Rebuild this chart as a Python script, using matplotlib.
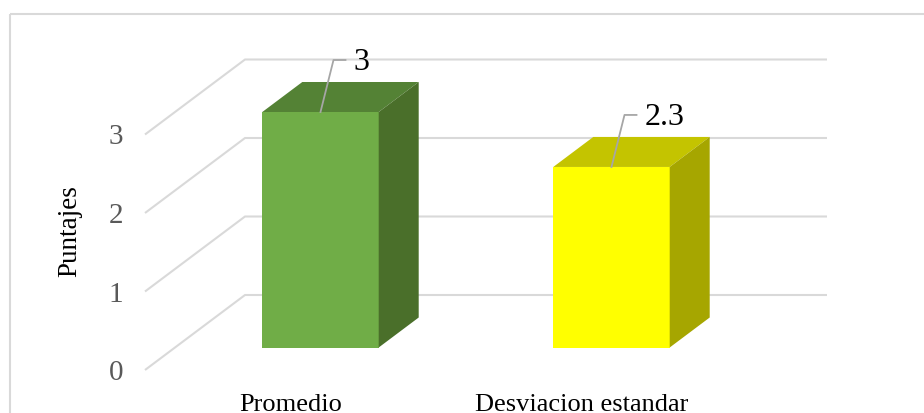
import numpy as np
import matplotlib.pyplot as plt
from matplotlib.patches import Polygon, Rectangle

# datos
categorias = ["Promedio", "Desviacion estandar"]
valores = [3, 2.3]
ticks_y = [0, 1, 2, 3]
color_frente = ["#70AD47", "#FFFF00"]
color_tapa = ["#548235", "#C4C400"]
color_lado = ["#4A6F2A", "#A6A600"]

plt.rcParams['font.family'] = ['Liberation Serif', 'DejaVu Serif']

W, H = 924, 414
fig = plt.figure(figsize=(W / 100, H / 100), dpi=100)
ax = fig.add_axes([0, 0, 1, 1])
ax.axis("off")

# escala: pixeles por categoria y por unidad de valor
px_cat = 291.0
px_val = 78.5
x0_px, y0_px = 290.5, 371.0
ax.set_xlim(-x0_px / px_cat, (W - x0_px) / px_cat)
ax.set_ylim(-(H - y0_px) / px_val, y0_px / px_val)

# vector de profundidad (pared frontal -> pared del fondo)
ddx = 100 / px_cat
ddy = 75 / px_val
ancho = 0.4
d_ini, d_fin = 0.3, 0.7

# marco del grafico
fig.patches.append(Rectangle((10 / W, 1 - 15 / H), 2, -2, transform=fig.transFigure,
                             fill=False, edgecolor="#D9D9D9", linewidth=1.5))

# lineas de cuadricula (pared del fondo y suelo lateral)
gris = "#D9D9D9"
for t in ticks_y:
    ax.plot([-0.5, -0.5 + ddx, 1.5 + ddx], [t, t + ddy, t + ddy], color=gris, lw=1.5,
            solid_capstyle="butt", zorder=1)
    ax.text(-0.5 - 29 / px_cat, t - 2 / px_val, str(t), ha="center", va="center",
            fontsize=21, color="#595959")

ax.text(-0.5 - 75 / px_cat, 1.5 + 0.28, "Puntajes", rotation=90, ha="center",
        va="center", fontsize=19.5, color="black")

# barras con efecto 3D
for i, v in enumerate(valores):
    xl = i - ancho / 2 + d_ini * ddx
    xr = xl + ancho
    yb = d_ini * ddy
    bx = (d_fin - d_ini) * ddx
    by = (d_fin - d_ini) * ddy
    frente = Rectangle((xl, yb), ancho, v, facecolor=color_frente[i], edgecolor="none", zorder=3)
    tapa = Polygon([(xl, yb + v), (xr, yb + v), (xr + bx, yb + v + by), (xl + bx, yb + v + by)],
                   closed=True, facecolor=color_tapa[i], edgecolor="none", zorder=3)
    lado = Polygon([(xr, yb), (xr, yb + v), (xr + bx, yb + v + by), (xr + bx, yb + by)],
                   closed=True, facecolor=color_lado[i], edgecolor="none", zorder=3)
    for p in (frente, tapa, lado):
        ax.add_patch(p)

    # etiqueta de valor con linea guia
    xc = (xl + xr) / 2
    xm = xc + 13 / px_cat
    ym = yb + v + 52 / px_val
    ax.plot([xc, xm, xm + 12 / px_cat], [yb + v, ym, ym], color="#A6A6A6", lw=1.3, zorder=4)
    ax.text(xm + 20 / px_cat, ym - 2 / px_val, f"{v:g}", ha="left", va="center",
            fontsize=23, color="black", zorder=5)

    ax.text(i, -34 / px_val, categorias[i], ha="center", va="center",
            fontsize=19, color="black")

fig.savefig("out.png", dpi=100)
